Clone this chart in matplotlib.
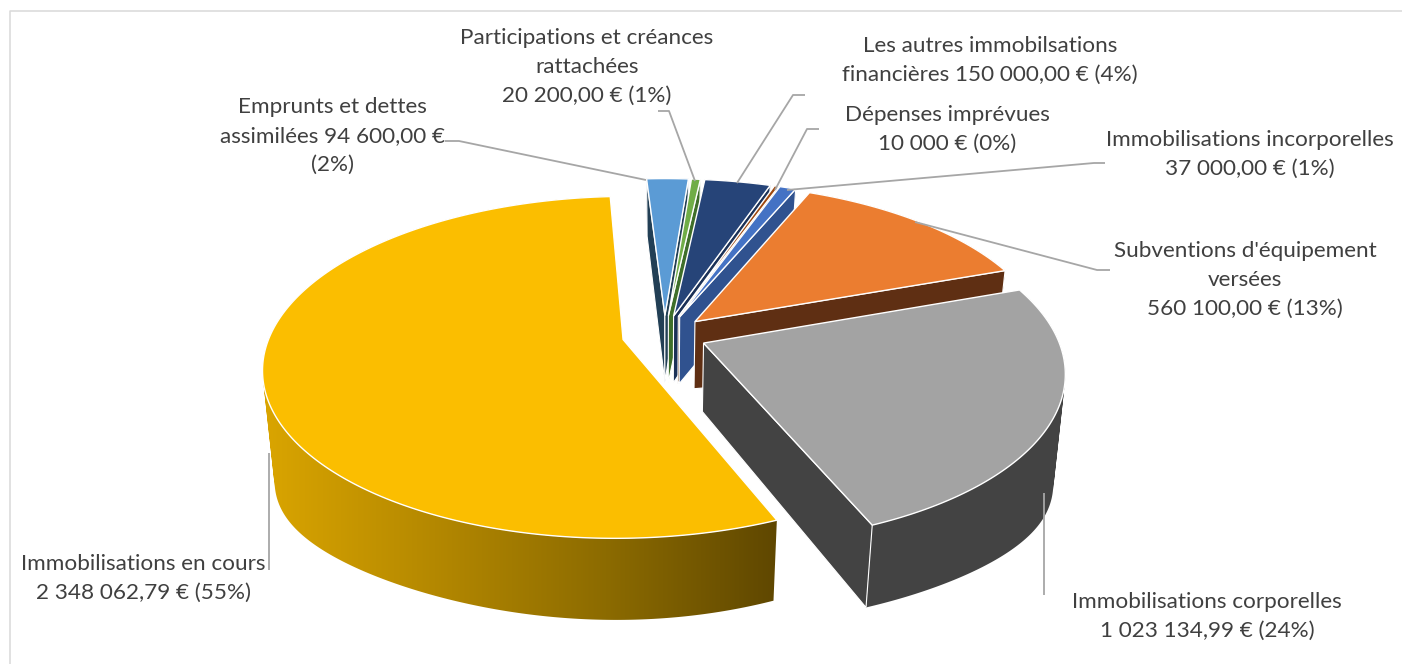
import numpy as np
import matplotlib
matplotlib.use('Agg')
import matplotlib.pyplot as plt
from matplotlib.colors import LinearSegmentedColormap
from matplotlib.patches import PathPatch
from matplotlib.path import Path

# values clockwise, starting just left of the back of the pie
names = ['Emprunts', 'Participations', 'Autres', 'Depenses', 'Incorporelles',
         'Subventions', 'Corporelles', 'En cours']
values = [94600.00, 20200.00, 150000.00, 10000.00, 37000.00,
          560100.00, 1023134.99, 2348062.79]
top_colors = ['#5B9BD5', '#70AD47', '#264478', '#9E480E', '#4472C4',
              '#EB7D30', '#A3A3A3', '#FBBE00']
side_colors = ['#223F55', '#3F6F2A', '#1B3157', '#5F2C08', '#30528F',
               '#5F2F13', '#434343', '#A67D00']

labels = [
    'Emprunts et dettes\nassimilées 94 600,00 €\n(2%)',
    'Participations et créances\nrattachées\n20 200,00 € (1%)',
    'Les autres immobilsations\nfinancières 150 000,00 € (4%)',
    'Dépenses imprévues\n10 000 € (0%)',
    'Immobilisations incorporelles\n37 000,00 € (1%)',
    "Subventions d'équipement\nversées\n560 100,00 € (13%)",
    'Immobilisations corporelles\n1 023 134,99 € (24%)',
    'Immobilisations en cours\n2 348 062,79 € (55%)',
]
label_xy = [(332, 136), (587, 67), (990, 60), (947, 129), (1250, 154),
            (1245, 280), (1207, 616), (143, 578)]
leaders = [
    [(445, 141), (459, 141), (646, 180)],
    [(658, 111), (669, 111), (695, 181)],
    [(805, 95), (793, 95), (737, 183)],
    [(819, 129), (807, 129), (775, 190)],
    [(1105, 163), (1094, 163), (787, 190)],
    [(1110, 270), (1097, 270), (915, 222)],
    [(1044, 595), (1044, 493)],
    [(269, 570), (269, 453)],
]

# projection of the pie, in pixels
cx, cy = 664.5, 335
A, B, k = 353, 165, 0.162
explode = 0.12
depth = 68
bulge = 27
shrink = 0.97
start = -3.5


def project(x, t, low=False):
    w = 1 - k * t
    px = A * x / w
    py = B * t / w
    if low:
        return cx + px * shrink, cy + py + depth / w + bulge * x ** 4
    return cx + px, cy + py


def wedge_points(a0, a1, mid):
    ang = np.radians(np.linspace(a0, a1, max(int(a1 - a0) * 2, 6)))
    ox = explode * np.sin(np.radians(mid))
    ot = -explode * np.cos(np.radians(mid))
    return ox, ot, ox + np.sin(ang), ot - np.cos(ang)


def side_of(p, q, r):
    return (q[0] - p[0]) * (r[1] - p[1]) - (q[1] - p[1]) * (r[0] - p[0])


def wall_path(top_x, top_y, low_x, low_y):
    # one quad per arc step, all wound the same way so they add up
    quads = []
    for j in range(len(top_x) - 1):
        q = np.array([(top_x[j], top_y[j]), (top_x[j + 1], top_y[j + 1]),
                      (low_x[j + 1], low_y[j + 1]), (low_x[j], low_y[j])])
        area = np.sum(q[:, 0] * np.roll(q[:, 1], -1) - np.roll(q[:, 0], -1) * q[:, 1])
        if area < 0:
            q = q[::-1]
        quads.append(Path(np.r_[q, q[:1]], closed=True))
    return Path.make_compound_path(*quads)


fig = plt.figure(figsize=(14.02, 6.64), dpi=100)
ax = fig.add_axes([0, 0, 1, 1])
ax.axis('off')

# frame of the chart area
ax.plot([9.5, 9.5, 1402], [664, 10.5, 10.5], color='#D9D9D9', lw=1.1)

fractions = np.array(values) / sum(values)
ends = start + np.cumsum(fractions) * 360
starts = ends - fractions * 360
mids = (starts + ends) / 2
yellow_side = LinearSegmentedColormap.from_list(
    'side', ['#DAA500', '#B48800', '#8C6B00', '#5F4700'])

# back wedges first
order = np.argsort(np.cos(np.radians(mids)) * -1)
for i in order:
    ox, ot, xs, ts = wedge_points(starts[i], ends[i], mids[i])
    top_x, top_y = project(xs, ts)
    low_x, low_y = project(xs, ts, low=True)
    ap_x, ap_y = project(ox, ot)
    ap_lx, ap_ly = project(ox, ot, low=True)
    inner = (top_x[len(xs) // 2], top_y[len(xs) // 2])

    # outer wall
    path = wall_path(top_x, top_y, low_x, low_y)
    if names[i] == 'En cours':
        x0, x1 = top_x.min(), top_x.max()
        y0, y1 = top_y.min(), low_y.max()
        im = ax.imshow(np.linspace(0, 1, 256)[None, :], cmap=yellow_side, aspect='auto',
                       extent=(x0, x1, y1, y0), zorder=2)
        wall = PathPatch(path, fc='none', ec='none')
        ax.add_patch(wall)
        im.set_clip_path(wall)
    else:
        ax.add_patch(PathPatch(path, fc=side_colors[i], ec='none', zorder=2 + i * 0.01))

    # flat cut faces, only those turned towards the viewer
    for j in [0, -1]:
        edge_a, edge_b = (ap_x, ap_y), (top_x[j], top_y[j])
        if side_of(edge_a, edge_b, inner) * side_of(edge_a, edge_b, (low_x[j], low_y[j])) < 0:
            ax.fill([ap_x, top_x[j], low_x[j], ap_lx], [ap_y, top_y[j], low_y[j], ap_ly],
                    fc=side_colors[i], ec='white', lw=0.8, zorder=2.1 + i * 0.01)

    ax.fill(np.r_[ap_x, top_x], np.r_[ap_y, top_y],
            fc=top_colors[i], ec='white', lw=1.0, zorder=3)

for pts in leaders:
    xs_l, ys_l = zip(*pts)
    ax.plot(xs_l, ys_l, color='#A6A6A6', lw=1.3, zorder=4, solid_capstyle='butt')

for txt, (x, y) in zip(labels, label_xy):
    ax.text(x, y, txt, ha='center', va='center', family='Lato', fontsize=16.2,
            color='#404040', linespacing=1.55, zorder=5)

ax.set_xlim(0, 1402)
ax.set_ylim(664, 0)

fig.savefig('out.png', dpi=100)
